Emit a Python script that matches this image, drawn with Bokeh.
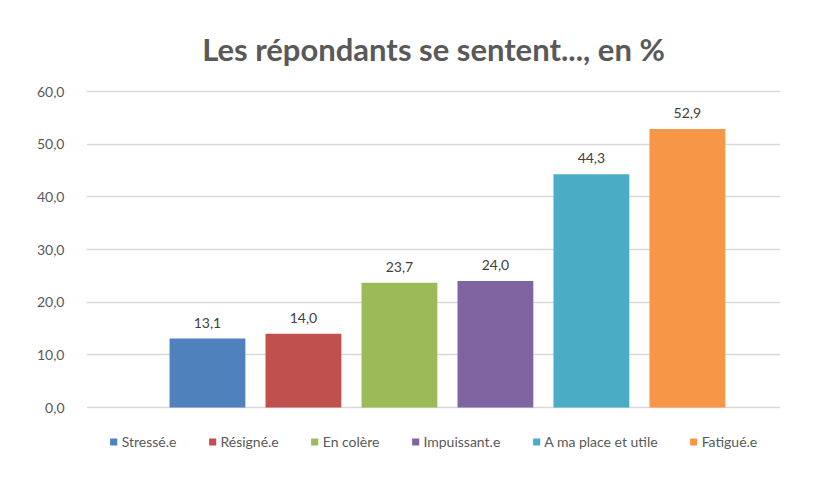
from bokeh.plotting import figure
from bokeh.models import ColumnDataSource, Range1d, Legend, LegendItem, FixedTicker
from bokeh.core.properties import value
from bokeh.embed import file_html
from bokeh.resources import INLINE

title_text = "Les répondants se sentent..., en %"
categories = ["Stressé.e", "Résigné.e", "En colère", "Impuissant.e", "A ma place et utile", "Fatigué.e"]
values = [13.1, 14.0, 23.7, 24.0, 44.3, 52.9]
colors = ["#4F81BD", "#C0504D", "#9BBB59", "#8064A2", "#4BACC6", "#F79646"]
y_ticks = [0, 10, 20, 30, 40, 50, 60]
y_tick_labels = ["0,0", "10,0", "20,0", "30,0", "40,0", "50,0", "60,0"]

labels = [f"{v:.1f}".replace(".", ",") for v in values]
xs = list(range(len(categories)))

src = ColumnDataSource(dict(x=xs, y=values, cat=categories, color=colors, label=labels))

p = figure(frame_width=694, frame_height=378, output_backend="svg", toolbar_location=None,
           x_range=Range1d(-1.26, 5.97), y_range=Range1d(-11.2, 60.57),
           min_border_left=86, min_border_right=50, min_border_top=88, min_border_bottom=20)
p.outline_line_color = None
p.background_fill_color = "white"
p.border_fill_color = "white"

p.title.text = title_text
p.title.align = "center"
p.title.text_font = "Lato"
p.title.text_font_style = "bold"
p.title.text_font_size = "31px"
p.title.text_color = "#595959"
p.title.standoff = 42

r = p.vbar(x="x", top="y", bottom=0, width=0.79, color="color", line_color=None, source=src)

p.text(x="x", y="y", text="label", source=src, y_offset=-11, text_align="center",
       text_baseline="bottom", text_font=value("Lato"), text_font_size="14px", text_color="#404040")

p.xaxis.visible = False
p.xgrid.visible = False
p.yaxis.ticker = FixedTicker(ticks=y_ticks)
p.yaxis.major_label_overrides = {t: l for t, l in zip(y_ticks, y_tick_labels)}
p.yaxis.axis_line_color = None
p.yaxis.major_tick_line_color = None
p.yaxis.minor_tick_line_color = None
p.yaxis.major_label_standoff = 16
p.yaxis.major_label_text_font = "Lato"
p.yaxis.major_label_text_font_size = "14px"
p.yaxis.major_label_text_color = "#595959"
p.ygrid.ticker = FixedTicker(ticks=y_ticks)
p.ygrid.grid_line_color = "#D9D9D9"
p.ygrid.grid_line_width = 1.5

items = [LegendItem(label=c, renderers=[r], index=i) for i, c in enumerate(categories)]
legend = Legend(items=items, orientation="horizontal", location="bottom_center",
                border_line_color=None, background_fill_alpha=0,
                glyph_width=9, glyph_height=9, label_standoff=4, spacing=31,
                label_text_font="Lato", label_text_font_size="14px", label_text_color="#595959",
                margin=16, padding=5)
p.add_layout(legend)

open("out.html", "w").write(file_html(p, INLINE))
